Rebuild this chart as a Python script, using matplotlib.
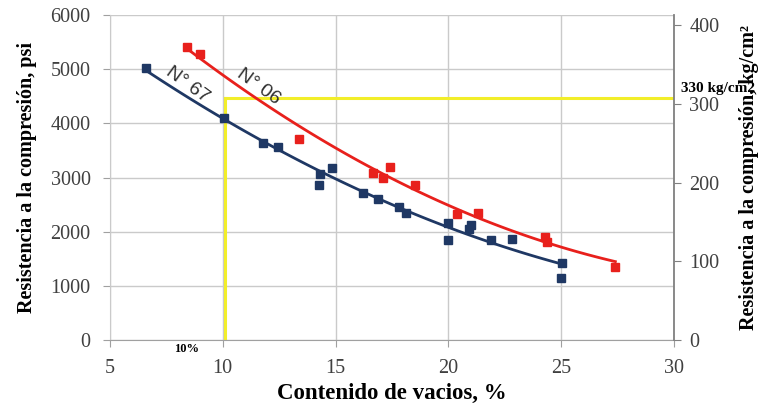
import numpy as np
import matplotlib
matplotlib.use("Agg")
import matplotlib.pyplot as plt

# data (x = contenido de vacios %, y = psi)
x_67 = [6.6, 10.05, 11.8, 12.45, 14.3, 14.85, 14.25, 16.2, 16.9, 17.8, 18.1,
        20.0, 20.0, 20.9, 21.0, 21.9, 22.8, 25.05, 25.0]
y_67 = [5020, 4100, 3640, 3560, 3065, 3170, 2860, 2715, 2600, 2455, 2345,
        2160, 1850, 2050, 2120, 1850, 1865, 1420, 1145]

x_06 = [8.4, 9.0, 13.4, 16.65, 17.1, 17.4, 18.5, 20.4, 21.3, 24.3, 24.35, 27.4]
y_06 = [5410, 5280, 3710, 3085, 2990, 3195, 2860, 2325, 2345, 1900, 1810, 1350]

limit_x = 10.1      # %
limit_psi = 4470    # ~ 330 kg/cm2 line

xticks = [5, 10, 15, 20, 25, 30]
yticks = [0, 1000, 2000, 3000, 4000, 5000, 6000]
yticks_kg = [0, 100, 200, 300, 400]

blue = "#1f3864"
red = "#e8201c"
grid_c = "#cacaca"
serif = "Liberation Serif"

fig = plt.figure(figsize=(7.61, 4.07), dpi=100)
ax = fig.add_axes([0.1445, 0.1646, 0.7412, 0.7985])

# trend lines (2nd order fit, like the spreadsheet trendline)
for xs, ys, c in [(x_67, y_67, blue), (x_06, y_06, red)]:
    p = np.polyfit(xs, ys, 2)
    xx = np.linspace(min(xs), max(xs), 100)
    ax.plot(xx, np.polyval(p, xx), color=c, lw=2, zorder=3)

ax.plot(x_67, y_67, "s", color=blue, ms=6, zorder=4)
ax.plot(x_06, y_06, "s", color=red, ms=6, zorder=4)

# yellow limit lines
ax.plot([limit_x, limit_x], [0, limit_psi], color="#f2ee2a", lw=2.2, zorder=2)
ax.plot([limit_x, 30], [limit_psi, limit_psi], color="#f2ee2a", lw=2.2, zorder=2)

ax.text(8.45, 4710, "N° 67", rotation=-36, fontsize=14, color="#303030",
        ha="center", va="center", family="Liberation Sans")
ax.text(11.6, 4670, "N° 06", rotation=-36, fontsize=14, color="#303030",
        ha="center", va="center", family="Liberation Sans")

ax.set_xlim(5, 30)
ax.set_ylim(0, 6000)
ax.set_xticks(xticks)
ax.set_yticks(yticks)
ax.grid(True, color=grid_c, lw=1)
ax.set_axisbelow(True)
for s in ["top", "right"]:
    ax.spines[s].set_visible(False)
ax.spines["left"].set_color(grid_c)
ax.spines["bottom"].set_color("#a0a0a0")
ax.tick_params(axis="both", colors="#a0a0a0", length=5, labelsize=14.5,
               labelcolor="#404040")
ax.tick_params(axis="x", pad=9)
ax.tick_params(axis="y", pad=9)
for lab in ax.get_xticklabels() + ax.get_yticklabels():
    lab.set_family(serif)

ax.set_xlabel("Contenido de vacios, %", family=serif, fontsize=16.5,
              fontweight="bold", labelpad=3)
ax.set_ylabel("Resistencia a la compresión, psi", family=serif, fontsize=14.5,
              fontweight="bold", labelpad=10)

ax2 = ax.twinx()
ax2.set_ylim(0, 413)
ax2.set_yticks(yticks_kg)
for s in ["top", "left", "bottom"]:
    ax2.spines[s].set_visible(False)
ax2.spines["right"].set_color("#808080")
ax2.spines["right"].set_linewidth(1.3)
ax2.tick_params(axis="y", colors="#808080", length=5, labelsize=14.5,
                labelcolor="#404040", pad=6)
for lab in ax2.get_yticklabels():
    lab.set_family(serif)
ax2.set_ylabel("Resistencia a la compresión, kg/cm²", family=serif,
               fontsize=14.5, fontweight="bold", labelpad=14)

fig.text(0.895, 0.783, "330 kg/cm2", family=serif, fontsize=11,
         fontweight="bold", va="center")
ax.text(8.4, -170, "10%", family=serif, fontsize=9, fontweight="bold",
        ha="center", va="center")

fig.savefig("out.png", dpi=100)
